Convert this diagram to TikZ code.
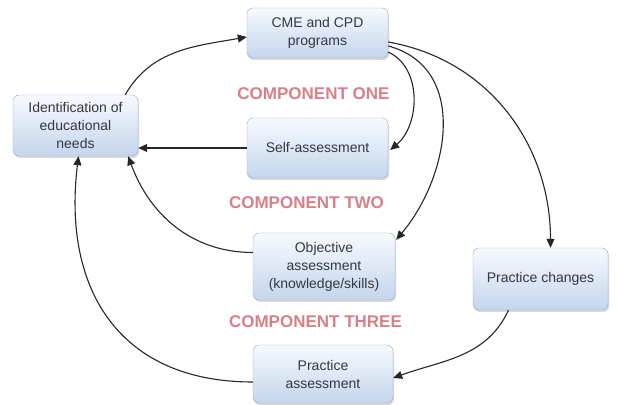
\documentclass[tikz,border=0pt]{standalone}
\usepackage{fontspec}
\setmainfont{Liberation Sans}
\usepackage{tikz}
\usetikzlibrary{arrows.meta}
\usetikzlibrary{shadows}

\definecolor{boxtop}{RGB}{247,250,254}
\definecolor{boxbot}{RGB}{196,213,237}
\definecolor{boxline}{RGB}{150,170,202}
\definecolor{comptext}{RGB}{214,128,136}
\definecolor{boxtext}{RGB}{55,55,62}

\begin{document}
\begin{tikzpicture}[x=1pt,y=1pt]
	\tikzstyle{every node}=[font=\fontsize{14}{18}\selectfont]
	\tikzstyle{stage}=[rectangle, rounded corners=6pt, draw=boxline, top color=boxtop, bottom color=boxbot, text=boxtext, align=center, inner sep=2pt, drop shadow={shadow xshift=1pt,shadow yshift=-2pt,opacity=0.3}]
	\tikzstyle{comp}=[font=\fontsize{17}{20}\selectfont\bfseries, text=comptext]
	\tikzstyle{link}=[line width=1.1pt, draw=black!85, -{Triangle[length=9pt,width=8pt]}]
	\useasboundingbox (0,0) rectangle (618,404);

	\node[stage, minimum width=141pt, minimum height=50pt] (cme) at (317.5,371) {CME and CPD\\programs};
	\node[stage, minimum width=125pt, minimum height=61pt] (ident) at (75.5,278.5) {Identification of\\educational\\needs};
	\node[stage, minimum width=141pt, minimum height=60pt] (self) at (317.5,256) {Self-assessment};
	\node[stage, minimum width=142pt, minimum height=67pt] (obj) at (324,137.5) {Objective\\assessment\\(knowledge/skills)};
	\node[stage, minimum width=135pt, minimum height=62pt] (pchg) at (540.5,125) {Practice changes};
	\node[stage, minimum width=140pt, minimum height=58pt] (pass) at (323,30) {Practice\\assessment};

	\node[comp] (one) at (313.5,310) {COMPONENT ONE};
	\node[comp] (two) at (306.5,201) {COMPONENT TWO};
	\node[comp] (three) at (315.5,82) {COMPONENT THREE};

	\draw[link] ([xshift=-13pt]ident.north east) to[out=60,in=190] ([yshift=-4pt]cme.west);
	\draw[link] (self.west) -- (self.west -| ident.east);
	\draw[link] ([yshift=14pt]obj.west) to[out=180,in=-70] ([xshift=-10pt]ident.south east);
	\draw[link] ([yshift=-8pt]pass.west) to[out=180,in=-97,looseness=1.2] ([xshift=3pt]ident.south);

	\draw[link] ([yshift=-19pt]cme.east) to[out=-25,in=40] ([xshift=2pt,yshift=-2pt]self.east);
	\draw[link] ([yshift=-13pt]cme.east) to[out=-15,in=50,looseness=1.1] ([xshift=1pt,yshift=-7pt]obj.north east);
	\draw[link] ([yshift=-9pt]cme.east) to[out=-10,in=90] ([xshift=10pt]pchg.north);
	\draw[link] ([xshift=-32pt]pchg.south) to[out=-115,in=20] ([yshift=-4pt]pass.east);
\end{tikzpicture}
\end{document}
